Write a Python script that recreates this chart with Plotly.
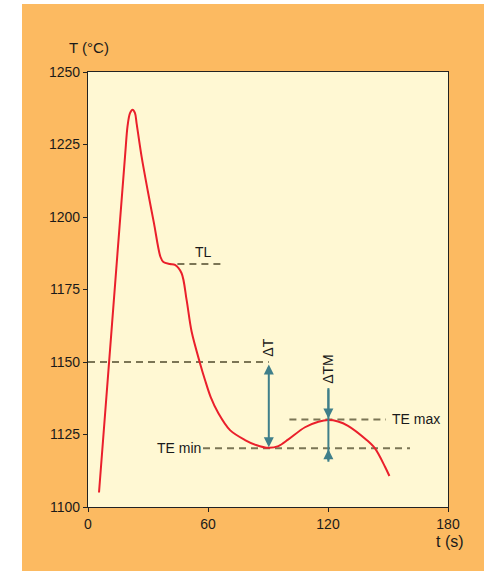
import plotly.graph_objects as go

# ---- data ----
time_s = [5.5, 12.0, 18.5, 19.8, 21.0, 22.3, 23.5, 24.3, 26.8, 29.8, 33.0, 36.2, 37.7,
          41.0, 43.5, 46.8, 49.3, 51.8, 56.0, 58.5, 61.3, 65.2, 71.0, 78.5, 84.0,
          90.2, 95.2, 100.2, 108.5, 115.2, 120.2, 125.0, 130.0, 139.3, 143.5, 148.5, 150.7]
temp_c = [1105.0, 1163.0, 1220.8, 1231.5, 1235.8, 1237.0, 1235.8, 1232.3, 1220.8, 1209.3,
          1197.8, 1186.3, 1184.5, 1183.8, 1183.5, 1180.6, 1171.4, 1160.5, 1149.6,
          1143.8, 1138.0, 1132.3, 1126.5, 1123.1, 1121.4, 1120.4, 1121.0, 1123.3, 1127.5,
          1129.4, 1130.0, 1129.5, 1128.0, 1123.1, 1120.2, 1113.9, 1110.7]

x_ticks = [0, 60, 120, 180]
y_ticks = [1100, 1125, 1150, 1175, 1200, 1225, 1250]

# reference levels
T_150 = 1150.0
TL = 1183.8
TE_min = 1120.3
TE_max = 1130.2
t_min = 90.4
t_max = 120.2

ORANGE = "#FCBA61"
CREAM = "#FFF8D3"
RED = "#EA1F2B"
TEAL = "#3F7F8A"
OLIVE = "#7B7555"
TXT = "#1a1a1a"
FONT = "Liberation Sans, Arial, sans-serif"

fig = go.Figure()

dash_style = dict(color=OLIVE, width=2, dash="7px,5px")
# dashed reference lines
fig.add_trace(go.Scatter(x=[0, t_min], y=[T_150, T_150], mode="lines", line=dash_style,
                         hoverinfo="skip", showlegend=False))
fig.add_trace(go.Scatter(x=[44.7, 67.7], y=[TL, TL], mode="lines", line=dash_style,
                         hoverinfo="skip", showlegend=False))
fig.add_trace(go.Scatter(x=[57.5, 161], y=[TE_min, TE_min], mode="lines", line=dash_style,
                         hoverinfo="skip", showlegend=False))
fig.add_trace(go.Scatter(x=[100.7, 149], y=[TE_max, TE_max], mode="lines", line=dash_style,
                         hoverinfo="skip", showlegend=False))

# cooling curve
fig.add_trace(go.Scatter(x=time_s, y=temp_c, mode="lines",
                         line=dict(color=RED, width=2, shape="spline", smoothing=0.9),
                         hoverinfo="skip", showlegend=False))

# ΔTM vertical line
fig.add_trace(go.Scatter(x=[t_max, t_max], y=[1141, 1115.6], mode="lines",
                         line=dict(color=TEAL, width=2), hoverinfo="skip", showlegend=False))

annotations = []
# ΔT double arrow
annotations.append(dict(x=t_min, y=TE_min, ax=t_min, ay=T_150, xref="x", yref="y",
                        axref="x", ayref="y", text="", showarrow=True,
                        arrowhead=2, arrowsize=1, arrowwidth=2, arrowcolor=TEAL,
                        arrowside="end+start", startarrowhead=2, startarrowsize=1,
                        standoff=1, startstandoff=1))
# ΔTM arrows
annotations.append(dict(x=t_max, y=TE_max, ax=t_max, ay=1141, xref="x", yref="y",
                        axref="x", ayref="y", text="", showarrow=True,
                        arrowhead=2, arrowsize=1, arrowwidth=2, arrowcolor=TEAL, standoff=1))
annotations.append(dict(x=t_max, y=TE_min, ax=t_max, ay=1115.6, xref="x", yref="y",
                        axref="x", ayref="y", text="", showarrow=True,
                        arrowhead=2, arrowsize=1, arrowwidth=2, arrowcolor=TEAL, standoff=1))

tfont = dict(family=FONT, size=14, color=TXT)
annotations += [
    dict(x=57.7, y=1187.9, text="TL", showarrow=False, font=tfont, xanchor="center", yanchor="middle"),
    dict(x=57.0, y=TE_min, text="TE min", showarrow=False, font=tfont, xanchor="right", yanchor="middle", xshift=1),
    dict(x=150.8, y=TE_max, text="TE max", showarrow=False, font=tfont, xanchor="left", yanchor="middle"),
    dict(x=t_min - 0.8, y=1155.0, text="ΔT", showarrow=False, font=tfont, textangle=-90,
         xanchor="center", yanchor="middle"),
    dict(x=t_max, y=1147.8, text="ΔTM", showarrow=False, font=tfont, textangle=-90,
         xanchor="center", yanchor="middle"),
    dict(x=0.004, y=1.0, xref="paper", yref="paper", yshift=14, text="T (°C)", showarrow=False,
         font=dict(family=FONT, size=15, color=TXT), xanchor="center", yanchor="bottom"),
    dict(x=1.005, y=0, xref="paper", yref="paper", yshift=-24, text="t (s)", showarrow=False,
         font=dict(family=FONT, size=16, color=TXT), xanchor="center", yanchor="top"),
]

shapes = [
    dict(type="rect", xref="paper", yref="paper", x0=-0.30, x1=-0.18333, y0=-0.2, y1=1.2,
         fillcolor="white", line=dict(width=0), layer="below"),
    dict(type="rect", xref="paper", yref="paper", x0=-0.30, x1=1.2, y0=1.15632, y1=1.2,
         fillcolor="white", line=dict(width=0), layer="below"),
]

axis_common = dict(showgrid=False, zeroline=False, showline=True, linecolor="#222",
                   linewidth=1.2, mirror=True, ticks="outside", ticklen=4, tickwidth=1.2,
                   tickcolor="#222", tickfont=dict(family=FONT, size=14, color=TXT))

fig.update_layout(
    width=484, height=571,
    margin=dict(l=88, r=36, t=72, b=64),
    paper_bgcolor=ORANGE, plot_bgcolor=CREAM,
    xaxis=dict(range=[0, 180], tickvals=x_ticks, ticktext=[str(v) for v in x_ticks], **axis_common),
    yaxis=dict(range=[1100, 1250], tickvals=y_ticks, ticktext=[str(v) for v in y_ticks], **axis_common),
    annotations=annotations, shapes=shapes, showlegend=False,
)

fig.write_html("out.html", config={"displayModeBar": False},
               post_script="document.body.style.margin='0px';")
